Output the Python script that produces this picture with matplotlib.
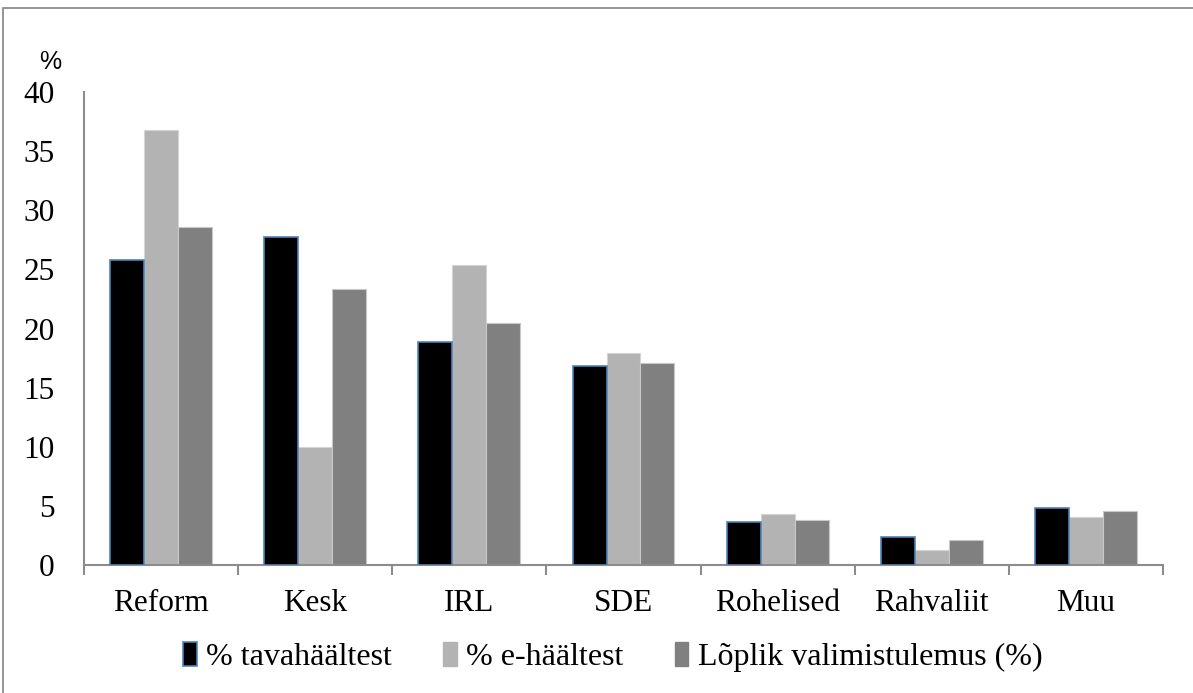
import matplotlib
matplotlib.use("Agg")
import matplotlib.pyplot as plt
import numpy as np
from matplotlib.patches import Rectangle, Patch

categories = ["Reform", "Kesk", "IRL", "SDE", "Rohelised", "Rahvaliit", "Muu"]
tava = [25.8, 27.7, 18.9, 16.8, 3.6, 2.4, 4.8]
e_haaled = [36.8, 10.0, 25.4, 17.9, 4.3, 1.3, 4.1]
loplik = [28.6, 23.3, 20.5, 17.1, 3.8, 2.1, 4.6]
series_names = ["% tavahäältest", "% e-häältest", "Lõplik valimistulemus (%)"]
y_ticks = [0, 5, 10, 15, 20, 25, 30, 35, 40]

fig = plt.figure(figsize=(11.93, 6.93), dpi=100)
fig.patch.set_facecolor("white")

# outer frame
fig.patches.append(Rectangle((3 / 1193, -0.05), 1.2, (693 - 8) / 693 + 0.05,
                             transform=fig.transFigure, fill=False,
                             edgecolor="#8c8c8c", linewidth=1.3, zorder=0))

ax = fig.add_axes([84 / 1193, (693 - 565) / 693, (1163 - 84) / 1193, (565 - 92) / 693])

x = np.arange(len(categories))
w = 0.22
ax.bar(x - w, tava, w, color="black", edgecolor="#4f81bd", linewidth=1.2, zorder=3)
ax.bar(x, e_haaled, w, color="#b3b3b3", edgecolor="#d4d4d4", linewidth=0.8, zorder=2)
ax.bar(x + w, loplik, w, color="#808080", edgecolor="#c8c8c8", linewidth=0.8, zorder=2)

ax.set_xlim(-0.5, len(categories) - 0.5)
ax.set_ylim(0, 40)

for s in ["top", "right"]:
    ax.spines[s].set_visible(False)
for s in ["left", "bottom"]:
    ax.spines[s].set_color("#8c8c8c")
    ax.spines[s].set_linewidth(1.5)

serif = ["Liberation Serif", "DejaVu Serif"]
ax.set_yticks(y_ticks)
ax.set_yticklabels([str(v) for v in y_ticks], fontsize=22.5, family=serif)
ax.tick_params(axis="y", length=0, pad=21)

ax.set_xticks(np.arange(-0.5, len(categories), 1.0))
ax.set_xticklabels([])
ax.set_xticks(x, minor=True)
ax.set_xticklabels(categories, minor=True, fontsize=22.5, family=serif)
ax.tick_params(axis="x", which="major", length=7.5, width=1.5, color="#8c8c8c", direction="out")
ax.tick_params(axis="x", which="minor", length=0, pad=17)

fig.text(39 / 1193, 1 - 62 / 693, "%", fontsize=18, family=["Liberation Sans", "DejaVu Sans"],
         ha="left", va="center")

handles = [Patch(facecolor="black", edgecolor="#4f81bd", linewidth=1.2),
           Patch(facecolor="#b3b3b3", edgecolor="#b3b3b3"),
           Patch(facecolor="#808080", edgecolor="#808080")]
fig.legend(handles, series_names, loc="center", bbox_to_anchor=(613 / 1193, 1 - 657 / 693),
           ncol=3, frameon=False, prop={"family": serif, "size": 23},
           handlelength=0.42, handleheight=0.8, handletextpad=0.3, columnspacing=1.6,
           borderpad=0)

fig.savefig("out.png", dpi=100, facecolor="white")
